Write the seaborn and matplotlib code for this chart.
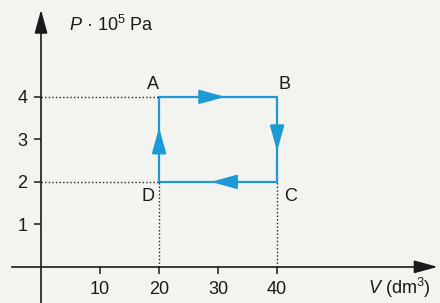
import numpy as np
import pandas as pd
import matplotlib
matplotlib.use("Agg")
import matplotlib.pyplot as plt
import seaborn as sns

# cycle A -> B -> C -> D -> A
state_names = ["A", "B", "C", "D"]
volume = [20, 40, 40, 20]      # dm^3
pressure = [4, 4, 2, 2]        # 10^5 Pa

x_ticks = [10, 20, 30, 40]
y_ticks = [1, 2, 3, 4]

blue = "#1a9bd7"
paper = "#f3f3f0"
ink = "#1a1a1a"

sns.set_theme(style="white")
plt.rcParams["font.family"] = ["Liberation Sans", "DejaVu Sans"]
plt.rcParams["mathtext.fontset"] = "custom"
plt.rcParams["mathtext.rm"] = "Liberation Sans"
plt.rcParams["mathtext.it"] = "Liberation Sans:italic"

fig = plt.figure(figsize=(4.4, 3.03), dpi=100, facecolor=paper)
ax = fig.add_axes([0, 0, 1, 1], facecolor=paper)

# closed path through the states
cycle = pd.DataFrame({
    "V": volume + [volume[0]],
    "P": pressure + [pressure[0]],
})
sns.lineplot(data=cycle, x="V", y="P", sort=False, estimator=None,
             color=blue, lw=1.6, ax=ax)

# arrowheads near the middle of each branch, tip a bit past the midpoint
for i in range(len(volume)):
    j = (i + 1) % len(volume)
    x0, y0 = volume[i], pressure[i]
    x1, y1 = volume[j], pressure[j]
    mx, my = (x0 + x1) / 2, (y0 + y1) / 2
    tip = (mx + (x1 - x0) * 0.06, my + (y1 - y0) * 0.14)
    tail = (mx - (x1 - x0) * 0.06, my - (y1 - y0) * 0.14)
    ax.annotate("", xy=tip, xytext=tail,
                arrowprops=dict(arrowstyle="-|>,head_length=1.3,head_width=0.36",
                                color=blue, lw=1.6, shrinkA=0, shrinkB=0))

# dotted guides to the axes
dot = dict(color="#222222", lw=1.0, ls=(0, (1, 1.6)))
ax.plot([0, volume[0]], [pressure[0], pressure[0]], **dot)
ax.plot([0, volume[3]], [pressure[3], pressure[3]], **dot)
ax.plot([volume[3], volume[3]], [0, pressure[3]], **dot)
ax.plot([volume[2], volume[2]], [0, pressure[2]], **dot)

# state labels
offsets = {"A": (-1.1, 0.3), "B": (1.3, 0.28), "C": (2.2, -0.35), "D": (-1.9, -0.35)}
for name, v, p in zip(state_names, volume, pressure):
    dx, dy = offsets[name]
    ax.text(v + dx, p + dy, name, fontsize=13, ha="center", va="center", color=ink)

ax.set_xlim(-6.95, 67.6)
ax.set_ylim(-0.85, 6.28)

# axes through the origin with arrowheads
for side in ["top", "right"]:
    ax.spines[side].set_visible(False)
ax.spines["left"].set_position(("data", 0))
ax.spines["bottom"].set_position(("data", 0))
ax.spines["left"].set_bounds(-0.85, 5.8)
ax.spines["bottom"].set_bounds(-4.9, 64.5)
for side in ["left", "bottom"]:
    ax.spines[side].set_color(ink)
    ax.spines[side].set_linewidth(1.2)
ax.annotate("", xy=(0, 6.05), xytext=(0, 5.6),
            arrowprops=dict(arrowstyle="-|>,head_length=1.2,head_width=0.33",
                            color=ink, lw=1.2, shrinkA=0, shrinkB=0))
ax.annotate("", xy=(67.2, 0), xytext=(63.5, 0),
            arrowprops=dict(arrowstyle="-|>,head_length=1.2,head_width=0.33",
                            color=ink, lw=1.2, shrinkA=0, shrinkB=0))

ax.set_xticks(x_ticks)
ax.set_yticks(y_ticks)
ax.tick_params(axis="both", direction="out", length=5, width=1.1, color=ink,
               labelsize=13, labelcolor=ink, pad=5,
               bottom=True, left=True)
ax.set_xlabel("")
ax.set_ylabel("")

ax.text(4.8, 5.69, r"$\mathit{P}$ · 10$^5$ Pa", fontsize=13, ha="left", va="center",
        color=ink)
ax.text(55.4, -0.5, r"$\mathit{V}$ (dm$^3$)", fontsize=13, ha="left", va="center",
        color=ink)

fig.savefig("out.png", dpi=100, facecolor=paper)
